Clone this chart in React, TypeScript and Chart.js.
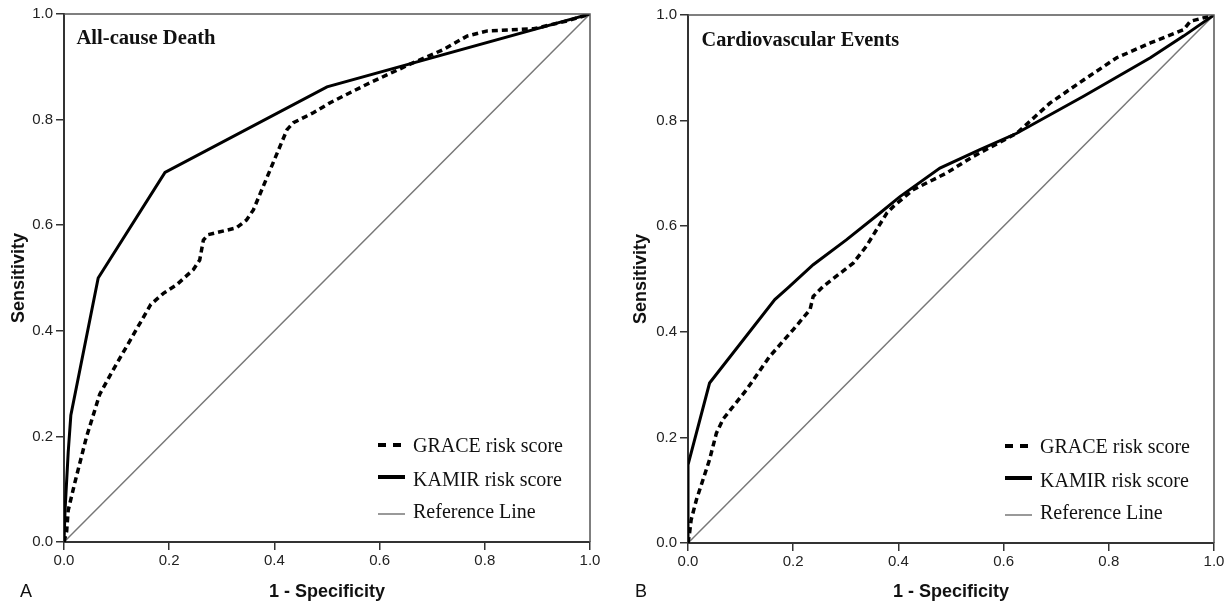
import React, { useEffect, useRef } from "react";
import { Chart, registerables } from "chart.js";

Chart.register(...registerables);

// ---------- data ----------
const tickLabels = ["0.0", "0.2", "0.4", "0.6", "0.8", "1.0"];

const seriesNames = ["GRACE risk score", "KAMIR risk score", "Reference Line"];

// Panel A: All-cause Death
const A_GRACE_x = [0, 0.005, 0.008, 0.02, 0.043, 0.068, 0.09, 0.165, 0.189, 0.214, 0.246, 0.258, 0.265, 0.274, 0.328, 0.347, 0.36, 0.424, 0.436, 0.474, 0.506, 0.576, 0.658, 0.722, 0.766, 0.805, 0.893, 0.957, 1];
const A_GRACE_y = [0, 0.02, 0.06, 0.11, 0.2, 0.28, 0.32, 0.45, 0.471, 0.487, 0.516, 0.534, 0.572, 0.582, 0.595, 0.61, 0.629, 0.781, 0.794, 0.813, 0.832, 0.867, 0.905, 0.933, 0.958, 0.968, 0.972, 0.987, 1];
const A_KAMIR_x = [0, 0.002, 0.008, 0.013, 0.065, 0.192, 0.5, 1];
const A_KAMIR_y = [0, 0.06, 0.17, 0.24, 0.5, 0.7, 0.862, 1];

// Panel B: Cardiovascular Events
const B_GRACE_x = [0, 0.003, 0.006, 0.016, 0.041, 0.054, 0.067, 0.111, 0.155, 0.2, 0.232, 0.238, 0.257, 0.314, 0.339, 0.378, 0.39, 0.428, 0.492, 0.542, 0.625, 0.688, 0.752, 0.815, 0.879, 0.942, 0.955, 1];
const B_GRACE_y = [0, 0.019, 0.044, 0.082, 0.158, 0.208, 0.235, 0.29, 0.353, 0.404, 0.442, 0.467, 0.486, 0.53, 0.562, 0.625, 0.637, 0.669, 0.701, 0.732, 0.776, 0.833, 0.877, 0.919, 0.947, 0.972, 0.988, 1];
const B_KAMIR_x = [0, 0, 0.041, 0.165, 0.19, 0.238, 0.301, 0.365, 0.403, 0.479, 0.555, 0.625, 0.752, 0.879, 0.942, 1];
const B_KAMIR_y = [0, 0.148, 0.303, 0.461, 0.483, 0.527, 0.574, 0.625, 0.656, 0.71, 0.745, 0.776, 0.846, 0.919, 0.96, 1];

const REF_x = [0, 1];
const REF_y = [0, 1];

const zip = (xs: number[], ys: number[]) => xs.map((x, i) => ({ x, y: ys[i] }));

// ---------- overlay plugin (frame, panel title, legend, panel letter) ----------
const overlayPlugin = {
  id: "overlay",
  afterDraw(chart: any, _args: any, opts: any) {
    const { ctx, chartArea: a } = chart;
    ctx.save();
    // top and right frame
    ctx.strokeStyle = "#555";
    ctx.lineWidth = 1.5;
    ctx.beginPath();
    ctx.moveTo(a.left, a.top);
    ctx.lineTo(a.right, a.top);
    ctx.lineTo(a.right, a.bottom);
    ctx.stroke();

    // panel title
    ctx.fillStyle = "#111";
    ctx.textAlign = "left";
    ctx.textBaseline = "alphabetic";
    ctx.font = `bold ${opts.titleSize}px "Liberation Serif", "Times New Roman", serif`;
    ctx.fillText(opts.title, a.left + opts.titleDx, a.top + opts.titleDy);

    // legend
    const rows = [90, 56, 24];
    const sampleOff = [7, 9, 4];
    const tx = a.right - opts.legendDx;
    chart.data.datasets.forEach((d: any, i: number) => {
      const by = a.bottom - rows[i];
      const sy = by - sampleOff[i];
      ctx.strokeStyle = d.borderColor;
      ctx.lineWidth = d.borderDash ? 4 : d.borderWidth === 3 ? 4 : d.borderWidth;
      ctx.setLineDash(d.borderDash ? [8, 7] : []);
      ctx.beginPath();
      ctx.moveTo(tx - 35, sy);
      ctx.lineTo(d.borderDash ? tx - 12 : tx - 8, sy);
      ctx.stroke();
      ctx.setLineDash([]);
      ctx.fillStyle = "#111";
      ctx.font = `20px "Liberation Serif", "Times New Roman", serif`;
      ctx.fillText(d.label, tx, by);
    });

    // panel letter
    ctx.fillStyle = "#111";
    ctx.font = `18px "Liberation Sans", Arial, sans-serif`;
    ctx.fillText(opts.letter, opts.letterX, 597);
    ctx.restore();
  },
};

type PanelProps = {
  grace: { x: number; y: number }[];
  kamir: { x: number; y: number }[];
  title: string;
  titleSize: number;
  titleDx: number;
  titleDy: number;
  letter: string;
  letterX: number;
  yWidth: number;
  xHeight: number;
  padTop: number;
  padRight: number;
  yTitlePad: number;
  xTitlePad: number;
  legendDx: number;
};

function Panel(p: PanelProps) {
  const ref = useRef<HTMLCanvasElement | null>(null);
  useEffect(() => {
    if (!ref.current) return;
    const tickFont = { family: '"Liberation Sans", Arial, sans-serif', size: 15 };
    const titleFont = { family: '"Liberation Sans", Arial, sans-serif', size: 18, weight: "bold" as const };
    const common = {
      type: "linear" as const,
      min: 0,
      max: 1,
      ticks: {
        stepSize: 0.2,
        autoSkip: false,
        color: "#222",
        font: tickFont,
        callback: (_v: any, i: number) => tickLabels[i],
      },
      grid: {
        display: true,
        drawOnChartArea: false,
        drawTicks: true,
        tickLength: 8,
        color: "#333",
        lineWidth: 1.5,
      },
      border: { display: true, color: "#333", width: 2 },
    };
    const chart = new Chart(ref.current, {
      type: "scatter",
      data: {
        datasets: [
          {
            label: seriesNames[0],
            data: p.grace,
            showLine: true,
            borderColor: "#000",
            borderWidth: 3.5,
            borderDash: [6, 4],
            pointRadius: 0,
            fill: false,
            order: 1,
          },
          {
            label: seriesNames[1],
            data: p.kamir,
            showLine: true,
            borderColor: "#000",
            borderWidth: 3,
            pointRadius: 0,
            fill: false,
            order: 0,
          },
          {
            label: seriesNames[2],
            data: zip(REF_x, REF_y),
            showLine: true,
            borderColor: "#777",
            borderWidth: 1.5,
            pointRadius: 0,
            fill: false,
            order: 2,
          },
        ],
      },
      options: {
        animation: false,
        responsive: false,
        devicePixelRatio: 1,
        layout: { padding: { top: p.padTop, right: p.padRight, bottom: 0, left: 0 } },
        plugins: {
          legend: { display: false },
          tooltip: { enabled: false },
          overlay: {
            title: p.title,
            titleSize: p.titleSize,
            titleDx: p.titleDx,
            titleDy: p.titleDy,
            letter: p.letter,
            letterX: p.letterX,
            legendDx: p.legendDx,
          },
        } as any,
        scales: {
          x: {
            ...common,
            position: "bottom",
            ticks: { ...common.ticks, padding: 2, maxRotation: 0 },
            title: {
              display: true,
              text: "1 - Specificity",
              color: "#111",
              font: titleFont,
              padding: { top: 0, bottom: p.xTitlePad },
            },
            afterFit: (s: any) => {
              s.height = p.xHeight;
            },
          },
          y: {
            ...common,
            position: "left",
            ticks: { ...common.ticks, padding: 3 },
            title: {
              display: true,
              text: "Sensitivity",
              color: "#111",
              font: titleFont,
              padding: { top: p.yTitlePad, bottom: 0 },
            },
            afterFit: (s: any) => {
              s.width = p.yWidth;
            },
          },
        },
      } as any,
      plugins: [overlayPlugin],
    });
    return () => chart.destroy();
  }, []);
  return <canvas ref={ref} width={614} height={606} style={{ display: "block" }} />;
}

export default function App() {
  return (
    <div
      style={{
        position: "absolute",
        left: 0,
        top: 0,
        width: 1228,
        height: 606,
        background: "#fff",
        display: "flex",
      }}
    >
      <Panel
        grace={zip(A_GRACE_x, A_GRACE_y)}
        kamir={zip(A_KAMIR_x, A_KAMIR_y)}
        title="All-cause Death"
        titleSize={20.6}
        titleDx={12.5}
        titleDy={30}
        letter="A"
        letterX={20}
        yWidth={64}
        xHeight={64}
        padTop={14}
        padRight={24}
        yTitlePad={8}
        xTitlePad={3}
        legendDx={177}
      />
      <Panel
        grace={zip(B_GRACE_x, B_GRACE_y)}
        kamir={zip(B_KAMIR_x, B_KAMIR_y)}
        title="Cardiovascular Events"
        titleSize={20.3}
        titleDx={13.5}
        titleDy={31}
        letter="B"
        letterX={21}
        yWidth={74}
        xHeight={63}
        padTop={15}
        padRight={14}
        yTitlePad={16}
        xTitlePad={3}
        legendDx={174}
      />
    </div>
  );
}
